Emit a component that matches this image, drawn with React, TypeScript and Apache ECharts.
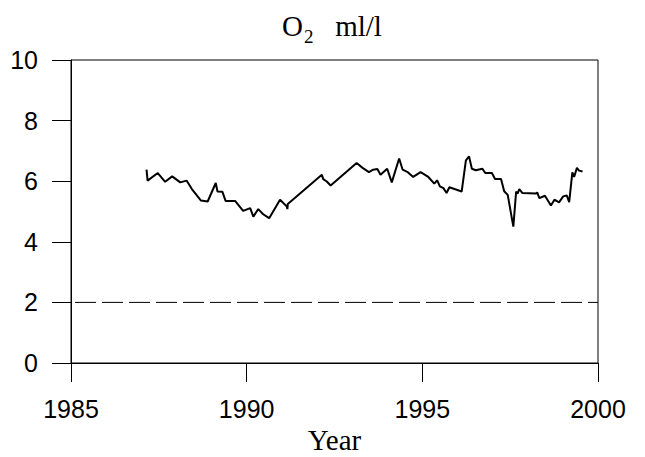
import React, { useEffect, useRef } from "react";
import * as echarts from "echarts";

const years = [
  1987.15, 1987.18, 1987.47, 1987.68, 1987.88, 1988.11, 1988.29, 1988.44, 1988.7, 1988.89,
  1989.12, 1989.17, 1989.31, 1989.4, 1989.67, 1989.9, 1990.1, 1990.19, 1990.33, 1990.47,
  1990.64, 1990.95, 1991.14, 1991.16, 1991.17, 1992.14, 1992.18, 1992.28, 1992.39, 1993.13,
  1993.3, 1993.48, 1993.6, 1993.72, 1993.81, 1994.0, 1994.13, 1994.34, 1994.44, 1994.57,
  1994.74, 1994.95, 1995.17, 1995.34, 1995.42, 1995.5, 1995.6, 1995.69, 1995.77, 1996.12,
  1996.24, 1996.33, 1996.41, 1996.52, 1996.71, 1996.79, 1996.98, 1997.07, 1997.24, 1997.33,
  1997.43, 1997.59, 1997.67, 1997.71, 1997.76, 1997.85, 1998.23, 1998.27, 1998.33, 1998.49,
  1998.66, 1998.76, 1998.89, 1999.01, 1999.11, 1999.18, 1999.27, 1999.32, 1999.4, 1999.46,
  1999.56,
];
const o2 = [
  6.38, 6.02, 6.27, 5.98, 6.16, 5.96, 6.02, 5.74, 5.36, 5.33,
  5.94, 5.66, 5.65, 5.35, 5.35, 5.02, 5.11, 4.83, 5.08, 4.91,
  4.78, 5.39, 5.17, 5.08, 5.25, 6.21, 6.07, 5.99, 5.86, 6.6,
  6.44, 6.3, 6.38, 6.4, 6.21, 6.41, 5.96, 6.75, 6.38, 6.31,
  6.14, 6.3, 6.14, 5.92, 6.03, 5.83, 5.77, 5.61, 5.8, 5.66,
  6.69, 6.82, 6.41, 6.36, 6.41, 6.27, 6.27, 6.07, 6.07, 5.67,
  5.55, 4.5, 5.66, 5.59, 5.74, 5.61, 5.59, 5.63, 5.44, 5.52,
  5.2, 5.39, 5.3, 5.5, 5.53, 5.31, 6.29, 6.14, 6.44, 6.35,
  6.32,
];
const limitYears = [1985, 2000];
const limitValue = 2;
const xTicks = [1985, 1990, 1995, 2000];
const yTicks = [0, 2, 4, 6, 8, 10];

export default function App() {
  const ref = useRef<HTMLDivElement>(null);
  useEffect(() => {
    if (!ref.current) return;
    const chart = echarts.init(ref.current, null, { renderer: "svg" });
    const sans = "'Liberation Sans', Arial, sans-serif";
    const serif = "'Liberation Serif', 'Times New Roman', serif";
    chart.setOption({
      animation: false,
      backgroundColor: "#ffffff",
      title: {
        text: "{o|O}{s|2}{n|   ml/l}",
        left: 277,
        top: 4,
        textStyle: {
          fontWeight: "normal",
          rich: {
            o: { fontFamily: serif, fontSize: 29, fontWeight: "normal", color: "#000", lineHeight: 34 },
            s: { fontFamily: serif, fontSize: 19, fontWeight: "normal", color: "#000", lineHeight: 34, padding: [20, 0, 0, 1] },
            n: { fontFamily: serif, fontSize: 29, fontWeight: "normal", color: "#000", lineHeight: 34 },
          },
        },
      },
      grid: {
        left: 71,
        right: 47,
        top: 60,
        bottom: 94,
        show: true,
        borderColor: "#000",
        borderWidth: 1,
        backgroundColor: "transparent",
        containLabel: false,
        outerBoundsMode: "none",
      },
      xAxis: {
        type: "value",
        min: xTicks[0],
        max: xTicks[xTicks.length - 1],
        interval: 5,
        name: "Year",
        nameLocation: "middle",
        nameGap: 51,
        nameTextStyle: { fontFamily: serif, fontSize: 29, color: "#000" },
        axisLine: { show: true, onZero: false, lineStyle: { color: "#000", width: 1 } },
        axisTick: { show: true, inside: false, length: 19, lineStyle: { color: "#000", width: 1 } },
        axisLabel: {
          margin: 33,
          fontFamily: sans,
          fontSize: 25,
          color: "#000",
          formatter: (v: number) => String(v),
        },
        splitLine: { show: false },
      },
      yAxis: {
        type: "value",
        min: yTicks[0],
        max: yTicks[yTicks.length - 1],
        interval: 2,
        axisLine: { show: true, onZero: false, lineStyle: { color: "#000", width: 1 } },
        axisTick: { show: true, inside: false, length: 19, lineStyle: { color: "#000", width: 1 } },
        axisLabel: { margin: 33, fontFamily: sans, fontSize: 25, color: "#000" },
        splitLine: { show: false },
      },
      series: [
        {
          type: "line",
          data: years.map((y, i) => [y, o2[i]]),
          symbol: "none",
          lineStyle: { color: "#000", width: 2 },
        },
        {
          type: "line",
          data: limitYears.map((y) => [y, limitValue]),
          symbol: "none",
          lineStyle: { color: "#000", width: 1, type: [21, 6], dashOffset: -4 },
        },
      ],
    });
    return () => chart.dispose();
  }, []);
  return (
    <div
      ref={ref}
      style={{ position: "absolute", left: 0, top: 0, width: 645, height: 457 }}
    />
  );
}
